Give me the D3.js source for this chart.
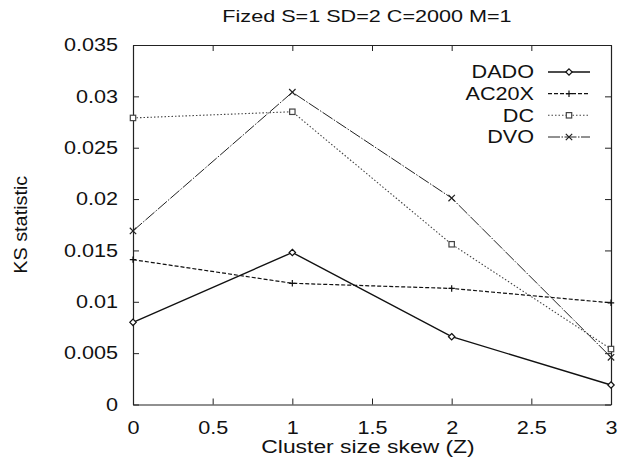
<!DOCTYPE html>
<html><head><meta charset="utf-8">
<script src="https://cdn.jsdelivr.net/npm/d3@7"></script>
<style>
html,body{margin:0;padding:0;background:#fff;}
text{font-family:"Liberation Sans",Arial,Helvetica,sans-serif;fill:#111;}
</style></head>
<body><svg id="c" width="619" height="459"></svg>
<script>
const xValues = [0, 1, 2, 3];
const seriesNames = ["DADO", "AC20X", "DC", "DVO"];
const dado  = [0.0080, 0.0148, 0.0066, 0.0019];
const ac20x = [0.0141, 0.0118, 0.0113, 0.0099];
const dc    = [0.0279, 0.0285, 0.0156, 0.0054];
const dvo   = [0.0169, 0.0304, 0.0201, 0.0046];
const xTicks = [0, 0.5, 1, 1.5, 2, 2.5, 3];
const yTicks = [0, 0.005, 0.01, 0.015, 0.02, 0.025, 0.03, 0.035];
const titleText = "Fized S=1 SD=2 C=2000 M=1";
const xLabel = "Cluster size skew (Z)";
const yLabel = "KS statistic";

const svg = d3.select("#c");
const L = 133, R = 611, T = 45, B = 404.5;
const x = d3.scaleLinear().domain([0, 3]).range([L, R]);
const y = d3.scaleLinear().domain([0, 0.035]).range([B, T]);
const STRETCH = 1.2;

function stretch(sel, f) {
  sel.each(function () {
    const w = this.getComputedTextLength();
    this.setAttribute("textLength", w * f);
    this.setAttribute("lengthAdjust", "spacingAndGlyphs");
  });
}

const tk = 6;
const gx = svg.append("g").attr("transform", `translate(0,${B})`)
  .call(d3.axisBottom(x).tickValues(xTicks).tickFormat(d => String(d)).tickSize(-tk).tickSizeOuter(0).tickPadding(17));
const gy = svg.append("g").attr("transform", `translate(${L},0)`)
  .call(d3.axisLeft(y).tickValues(yTicks).tickFormat(d => String(d)).tickSize(-tk).tickSizeOuter(0).tickPadding(15));
const gt = svg.append("g").attr("transform", `translate(0,${T})`)
  .call(d3.axisTop(x).tickValues(xTicks).tickFormat("").tickSize(-tk).tickSizeOuter(0));
const gr = svg.append("g").attr("transform", `translate(${R},0)`)
  .call(d3.axisRight(y).tickValues(yTicks).tickFormat("").tickSize(-tk).tickSizeOuter(0));
[gx, gy, gt, gr].forEach(g => {
  g.selectAll("path.domain").attr("stroke", "#222").attr("stroke-width", 1.2);
  g.selectAll("line").attr("stroke", "#222");
  g.selectAll("text").attr("font-size", 18).attr("font-family", "Liberation Sans, Arial, sans-serif").attr("fill", "#111");
});
stretch(gx.selectAll("text"), STRETCH);
stretch(gy.selectAll("text"), STRETCH);

const styles = [
  { data: dado,  dash: null,      width: 1.4, color: "#111", marker: "diamond" },
  { data: ac20x, dash: "4,2",     width: 1.2, color: "#111", marker: "plus" },
  { data: dc,    dash: "1.5,2",   width: 1.1, color: "#444", marker: "square" },
  { data: dvo,   dash: "12,1.5,1.5,1.5", width: 1.0, color: "#222", marker: "cross" },
];

const line = d3.line().x((d, i) => x(xValues[i])).y(d => y(d));

function drawMarker(g, type, cx, cy, color) {
  const s = 3.2;
  if (type === "diamond") {
    g.append("path").attr("d", `M${cx},${cy - s}L${cx + s},${cy}L${cx},${cy + s}L${cx - s},${cy}Z`)
      .attr("fill", "#fff").attr("stroke", color).attr("stroke-width", 1.2);
  } else if (type === "plus") {
    g.append("path").attr("d", `M${cx - s},${cy}H${cx + s}M${cx},${cy - s}V${cy + s}`)
      .attr("stroke", color).attr("stroke-width", 1.2).attr("fill", "none");
  } else if (type === "square") {
    g.append("rect").attr("x", cx - s + 0.5).attr("y", cy - s + 0.5).attr("width", 2 * s - 1).attr("height", 2 * s - 1)
      .attr("fill", "#fff").attr("stroke", color).attr("stroke-width", 1.2);
  } else {
    g.append("path").attr("d", `M${cx - s},${cy - s}L${cx + s},${cy + s}M${cx - s},${cy + s}L${cx + s},${cy - s}`)
      .attr("stroke", color).attr("stroke-width", 1.2).attr("fill", "none");
  }
}

const plot = svg.append("g");
styles.forEach(st => {
  plot.append("path").datum(st.data).attr("d", line).attr("fill", "none")
    .attr("stroke", st.color).attr("stroke-width", st.width)
    .attr("stroke-dasharray", st.dash);
  st.data.forEach((v, i) => drawMarker(plot, st.marker, x(xValues[i]), y(v), st.color));
});

// legend
const legY = [72, 93.7, 115.3, 137];
const leg = svg.append("g");
seriesNames.forEach((name, i) => {
  const st = styles[i];
  const t = leg.append("text").attr("x", 534).attr("y", legY[i]).attr("dy", "0.36em")
    .attr("text-anchor", "end").attr("font-size", 18).text(name);
  stretch(t, STRETCH);
  leg.append("line").attr("x1", 548).attr("x2", 590).attr("y1", legY[i]).attr("y2", legY[i])
    .attr("stroke", st.color).attr("stroke-width", st.width).attr("stroke-dasharray", st.dash);
  drawMarker(leg, st.marker, 569, legY[i], st.color);
});

// title and axis labels
const tt = svg.append("text").attr("x", 367).attr("y", 22).attr("text-anchor", "middle")
  .attr("font-size", 17).text(titleText);
stretch(tt, 1.27);
const xl = svg.append("text").attr("x", 368).attr("y", 453).attr("text-anchor", "middle")
  .attr("font-size", 18).text(xLabel);
stretch(xl, 1.27);
const yl = svg.append("text").attr("transform", `translate(27,${(T + B) / 2}) rotate(-90)`)
  .attr("text-anchor", "middle").attr("font-size", 18).text(yLabel);
stretch(yl, 1.1);
</script></body></html>
